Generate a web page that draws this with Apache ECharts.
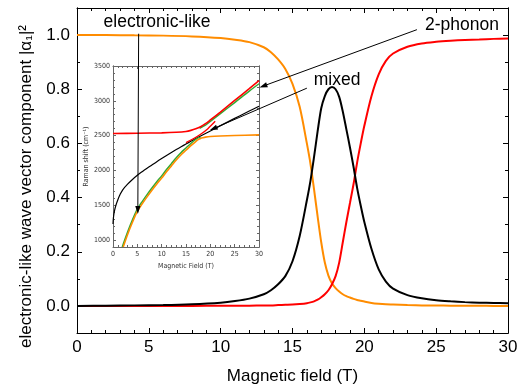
<!DOCTYPE html>
<html><head><meta charset="utf-8">
<script src="https://cdn.jsdelivr.net/npm/echarts@6/dist/echarts.min.js"></script>
<style>html,body{margin:0;padding:0;background:#fff}#c{width:522px;height:390px}</style>
</head><body><div id="c"></div>
<script>
// ---- main panel data: |alpha_1|^2 vs magnetic field ----
const fieldT = [0,2,4,6,8,10,11,12,13,13.5,14,14.5,15,15.5,16,16.25,16.5,16.75,17,17.25,17.5,17.75,18,18.25,18.5,18.75,19,19.25,19.5,19.75,20,20.5,21,21.5,22,23,24,25,26,27,28,29,30];
const orangeBranch = [1.000,1.000,0.999,0.998,0.995,0.989,0.983,0.974,0.955,0.937,0.910,0.875,0.820,0.735,0.600,0.525,0.430,0.330,0.235,0.160,0.112,0.083,0.066,0.053,0.043,0.036,0.031,0.026,0.022,0.019,0.016,0.011,0.008,0.006,0.005,0.003,0.002,0.002,0.001,0.001,0.001,0.000,0.000];
const redBranch = [0,0,0,0,0,0.001,0.001,0.001,0.002,0.002,0.003,0.004,0.005,0.007,0.010,0.013,0.017,0.023,0.032,0.043,0.058,0.080,0.110,0.160,0.235,0.310,0.380,0.450,0.530,0.600,0.665,0.775,0.855,0.905,0.932,0.957,0.969,0.975,0.979,0.982,0.984,0.986,0.987];
const blackBranch = [0.000,0.001,0.002,0.003,0.006,0.012,0.018,0.027,0.043,0.058,0.080,0.110,0.165,0.258,0.390,0.462,0.550,0.645,0.730,0.775,0.800,0.808,0.800,0.772,0.718,0.652,0.585,0.513,0.435,0.370,0.310,0.210,0.135,0.090,0.064,0.040,0.028,0.021,0.017,0.014,0.012,0.011,0.010];
const mainXTicks = [0,5,10,15,20,25,30];
const mainYTicks = [0,0.2,0.4,0.6,0.8,1.0];
const mainYMinor = [0.1,0.3,0.5,0.7,0.9];

// ---- inset data: Raman shift (cm^-1) vs magnetic field ----
const insetRedT = [0,5,10,13,15,16,17,18,19,20,22,25,28,30];
const insetRed = [2530,2535,2540,2548,2560,2575,2597,2628,2672,2725,2835,3005,3175,3290];
const insetRed2T = [15,16.5,18,19.5,21];
const insetRed2 = [2400,2455,2520,2600,2705];
const insetGreenUpT = [17.8,19,20,22,25,28,30];
const insetGreenUp = [2605,2650,2705,2812,2975,3140,3245];
const insetBlackT = [0,0.1,0.3,0.6,1,1.5,2,3,4,5,6,7,8,9,10,11,12,13,14,15,16,17,18,19,20,22,24,26,28,30];
const insetBlack = [1230,1330,1420,1500,1580,1660,1722,1802,1870,1930,1982,2031,2078,2125,2170,2214,2257,2299,2340,2380,2419,2457,2494,2530,2566,2640,2712,2783,2853,2922];
const insetOrangeT = [2.1,3,4,5,6,7,8,9,10,11,12,13,14,15,16,17,17.5,18,18.5,19,20,22,25,30];
const insetOrange = [900,1080,1255,1410,1520,1620,1715,1805,1890,1980,2065,2150,2225,2290,2355,2415,2443,2460,2470,2478,2487,2495,2502,2510];
const insetGreenLowT = [1.9,3,4,5,6,7,8,9,10,11,12,13,14,15,16,17,17.5,18];
const insetGreenLow = [900,1115,1290,1443,1553,1653,1747,1837,1922,2012,2097,2182,2257,2322,2387,2445,2468,2478];
const insetYTicks = [1000,1500,2000,2500,3000,3500];
const insetYMinor = [];
for (let v = 1000; v < 3500; v += 100) if (v % 500 !== 0) insetYMinor.push(v);

const zip = (xs, ys) => xs.map((x, i) => [x, ys[i]]);
const FONT = 'Liberation Sans, Arial, Helvetica, sans-serif';
const NARROW = 'Liberation Sans Narrow, DejaVu Sans Condensed, Arial Narrow, sans-serif';

function xAx(grid, pos, labels, big) {
  return {
    type: 'value', gridIndex: grid, position: pos, min: 0, max: 30, interval: 5,
    axisLine: { show: true, onZero: false, lineStyle: { color: big ? '#000' : '#666', width: 1 } },
    axisTick: { show: true, inside: true, length: big ? 5 : 3, lineStyle: { color: big ? '#000' : '#666' } },
    minorTick: { show: true, splitNumber: 5, length: big ? 3 : 2, lineStyle: { color: big ? '#000' : '#666' } },
    axisLabel: labels ? (big ? { show: true, margin: 6, color: '#000', fontSize: 17, fontFamily: FONT }
                             : { show: true, margin: 4, color: '#333', fontSize: 7, fontFamily: NARROW }) : { show: false },
    splitLine: { show: false }
  };
}
function yAx(grid, pos, min, max, vals, len, labels, opts) {
  const big = grid === 0;
  return Object.assign({
    type: 'value', gridIndex: grid, position: pos, min: min, max: max,
    axisLine: { show: true, onZero: false, lineStyle: { color: big ? '#000' : '#666', width: 1 } },
    axisTick: { show: true, inside: true, length: len, customValues: vals, lineStyle: { color: big ? '#000' : '#666' } },
    axisLabel: labels ? Object.assign({ show: true, customValues: vals }, labels) : { show: false },
    splitLine: { show: false }
  }, opts || {});
}

const option = {
  animation: false,
  backgroundColor: '#fff',
  grid: [
    { left: 77, right: 14, top: 8, bottom: 57 },
    { left: 113, top: 66, width: 146, height: 181 }
  ],
  xAxis: [
    Object.assign(xAx(0, 'bottom', true, true), {
      name: 'Magnetic field (T)', nameLocation: 'middle', nameGap: 35,
      nameTextStyle: { fontSize: 17, color: '#000', fontFamily: FONT }
    }),
    xAx(0, 'top', false, true),
    Object.assign(xAx(1, 'bottom', true, false), {
      name: 'Magnetic Field (T)', nameLocation: 'middle', nameGap: 16,
      nameTextStyle: { fontSize: 7, color: '#333', fontFamily: NARROW }
    }),
    xAx(1, 'top', false, false)
  ],
  yAxis: [
    yAx(0, 'left', -0.1, 1.1, mainYTicks, 5,
      { margin: 7, color: '#000', fontSize: 17, fontFamily: FONT, formatter: v => v.toFixed(1) },
      { name: 'electronic-like wave vector component |α₁|²', nameLocation: 'middle', nameGap: 42, nameRotate: 90,
        nameTextStyle: { fontSize: 17, color: '#000', fontFamily: FONT, padding: [0, 32, 0, 0] } }),
    yAx(0, 'left', -0.1, 1.1, mainYMinor, 3, null),
    yAx(0, 'right', -0.1, 1.1, mainYTicks, 5, null),
    yAx(0, 'right', -0.1, 1.1, mainYMinor, 3, null),
    yAx(1, 'left', 900, 3500, insetYTicks, 3,
      { margin: 3, color: '#333', fontSize: 7, fontFamily: NARROW, formatter: v => String(v) },
      { name: 'Raman shift (cm⁻¹)', nameLocation: 'middle', nameGap: 20, nameRotate: 90,
        nameTextStyle: { fontSize: 7, color: '#333', fontFamily: NARROW } }),
    yAx(1, 'left', 900, 3500, insetYMinor, 2, null),
    yAx(1, 'right', 900, 3500, insetYTicks, 3, null),
    yAx(1, 'right', 900, 3500, insetYMinor, 2, null)
  ],
  series: [
    { type: 'line', xAxisIndex: 0, yAxisIndex: 0, data: zip(fieldT, orangeBranch), showSymbol: false, smooth: 0.3, lineStyle: { color: '#FF8C00', width: 2 }, z: 3 },
    { type: 'line', xAxisIndex: 0, yAxisIndex: 0, data: zip(fieldT, redBranch), showSymbol: false, smooth: 0.3, lineStyle: { color: '#FF0000', width: 2 }, z: 3 },
    { type: 'line', xAxisIndex: 0, yAxisIndex: 0, data: zip(fieldT, blackBranch), showSymbol: false, smooth: 0.3, lineStyle: { color: '#000000', width: 2 }, z: 3 },
    { type: 'line', xAxisIndex: 2, yAxisIndex: 4, data: zip(insetBlackT, insetBlack), showSymbol: false, smooth: 0.3, lineStyle: { color: '#000', width: 1.2 }, z: 3 },
    { type: 'line', xAxisIndex: 2, yAxisIndex: 4, data: zip(insetGreenLowT, insetGreenLow), showSymbol: false, smooth: 0.3, lineStyle: { color: '#33AA33', width: 1.5 }, z: 3 },
    { type: 'line', xAxisIndex: 2, yAxisIndex: 4, data: zip(insetOrangeT, insetOrange), showSymbol: false, smooth: 0.3, lineStyle: { color: '#FF8C00', width: 1.6 }, z: 4 },
    { type: 'line', xAxisIndex: 2, yAxisIndex: 4, data: zip(insetGreenUpT, insetGreenUp), showSymbol: false, smooth: 0.3, lineStyle: { color: '#33AA33', width: 1.5 }, z: 3 },
    { type: 'line', xAxisIndex: 2, yAxisIndex: 4, data: zip(insetRedT, insetRed), showSymbol: false, smooth: 0.3, lineStyle: { color: '#FF0000', width: 1.6 }, z: 4 },
    { type: 'line', xAxisIndex: 2, yAxisIndex: 4, data: zip(insetRed2T, insetRed2), showSymbol: false, smooth: 0.3, lineStyle: { color: '#FF0000', width: 1.4 }, z: 4 }
  ]
};

const chart = echarts.init(document.getElementById('c'), null, { renderer: 'canvas' });
chart.setOption(option);

// ---- annotations (anchored in data coordinates) ----
const mainPx = p => chart.convertToPixel({ seriesIndex: 0 }, p);
const insetPx = p => chart.convertToPixel({ seriesIndex: 3 }, p);
function arrow(p0, p1) {
  const dx = p1[0] - p0[0], dy = p1[1] - p0[1], L = Math.hypot(dx, dy);
  const ux = dx / L, uy = dy / L, hl = 8, hw = 2.6;
  const bx = p1[0] - ux * hl, by = p1[1] - uy * hl;
  return [
    { type: 'line', z: 100, shape: { x1: p0[0], y1: p0[1], x2: bx, y2: by }, style: { stroke: '#000', lineWidth: 1 } },
    { type: 'polygon', z: 100, shape: { points: [[p1[0], p1[1]], [bx - uy * hw, by + ux * hw], [bx + uy * hw, by - ux * hw]] }, style: { fill: '#000' } }
  ];
}
function label(text, p) {
  return { type: 'text', z: 100, x: p[0], y: p[1], style: { text: text, fill: '#000', font: '17.5px ' + FONT, textAlign: 'center', textVerticalAlign: 'middle' } };
}
const g = [];
g.push(label('electronic-like', mainPx([5.57, 1.046])));
g.push(label('2-phonon', mainPx([26.8, 1.037])));
g.push(label('mixed', mainPx([18.1, 0.835])));
g.push(...arrow(mainPx([4.29, 1.005]), insetPx([5.1, 1375])));
g.push(...arrow(mainPx([23.66, 1.02]), insetPx([30.1, 3192])));
g.push(...arrow(mainPx([16.0, 0.804]), insetPx([19.87, 2577])));
chart.setOption({ graphic: g });
</script>
</body></html>
